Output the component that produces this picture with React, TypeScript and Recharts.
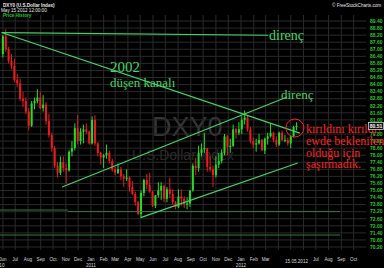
import React from 'react';
import { ComposedChart, Bar, XAxis, YAxis, CartesianGrid, ReferenceLine, ReferenceDot } from 'recharts';

document.body.style.margin = '0';
document.body.style.background = '#000';

// weekly bars, first week starts Mon 2010-05-31
const firstWeek = '2010-05-31';
const opens = [
  86.6, 88.1, 87.0, 86.0, 85.6, 84.4, 84.1, 82.8, 82.6, 81.7, 80.5, 82.4, 82.6, 82.9, 82.0, 82.3, 80.9, 79.7, 78.6, 77.1,
  76.5, 77.4, 76.9, 76.7, 78.3, 78.6, 80.3, 79.2, 80.0, 80.2, 80.0,
  79.0, 81.0, 79.0, 78.2, 77.8, 78.0, 78.2, 77.5, 76.8, 76.5, 76.8, 76.2, 76.0, 76.1, 75.3, 74.7, 74.0, 73.0, 74.8, 75.9,
  75.5, 74.9, 73.7, 74.6, 75.0, 75.4, 74.3, 75.1, 74.7, 74.0, 73.6, 74.5, 74.3, 73.8, 73.9, 75.0, 77.1, 76.9, 78.2, 78.5,
  78.6, 77.0, 76.8, 76.3, 77.2, 77.5, 78.2, 79.6, 78.7, 78.8, 80.2, 79.9,
  80.2, 81.0, 81.2, 80.2, 79.2, 78.9, 79.0, 79.3, 78.4, 79.4, 79.6, 79.9, 79.3, 78.9, 79.9, 79.3, 79.3, 79.0, 79.6, 80.4,
];
const highs = [
  88.2, 88.7, 87.2, 86.6, 86.2, 84.9, 84.5, 83.4, 82.9, 82.0, 82.6, 82.9, 83.6, 83.4, 83.1, 82.5, 81.5, 79.9, 78.8, 77.4,
  77.9, 77.9, 77.3, 78.4, 79.2, 80.7, 81.4, 80.3, 80.6, 80.7, 80.1,
  81.3, 81.4, 79.1, 78.3, 78.1, 78.9, 78.4, 77.7, 77.0, 77.3, 77.0, 76.4, 76.8, 76.2, 75.8, 74.9, 74.1, 75.0, 76.0, 76.4,
  76.5, 75.0, 74.6, 75.7, 75.7, 75.5, 75.3, 76.1, 75.1, 74.1, 75.1, 75.1, 74.5, 74.4, 75.0, 77.3, 77.8, 78.8, 79.0, 79.9,
  78.6, 77.9, 77.1, 77.9, 78.2, 78.5, 79.8, 79.7, 79.4, 80.6, 80.3, 80.8,
  81.3, 81.8, 81.4, 80.4, 79.5, 79.4, 79.8, 79.4, 79.5, 79.9, 80.7, 80.0, 79.6, 80.0, 80.1, 79.7, 79.5, 79.7, 80.5, 80.8,
];
const lows = [
  86.3, 86.8, 85.8, 85.3, 84.2, 83.8, 82.6, 82.1, 81.5, 80.1, 80.4, 81.9, 82.4, 81.9, 81.7, 80.6, 79.5, 78.3, 76.9, 76.1,
  76.3, 76.6, 75.6, 76.6, 77.9, 78.4, 78.9, 78.9, 79.0, 79.8, 78.9,
  78.9, 78.8, 77.9, 77.2, 76.9, 77.7, 77.3, 76.6, 76.3, 76.4, 75.9, 75.3, 75.8, 74.9, 74.6, 73.7, 72.9, 72.7, 74.5, 75.1,
  74.8, 73.6, 73.5, 74.4, 74.2, 74.0, 74.0, 74.4, 73.8, 73.4, 73.5, 73.7, 73.5, 73.4, 73.6, 74.9, 76.3, 76.6, 77.9, 78.2,
  76.6, 76.6, 75.3, 76.1, 76.9, 77.3, 78.0, 78.0, 78.2, 78.7, 79.4, 79.7,
  79.8, 80.6, 80.0, 79.0, 78.6, 78.3, 78.9, 78.4, 78.1, 78.9, 79.5, 79.1, 78.7, 78.8, 79.2, 79.1, 78.8, 78.6, 79.5, 80.1,
];
const closes = [
  88.1, 87.0, 86.0, 85.6, 84.4, 84.1, 82.8, 82.6, 81.7, 80.5, 82.4, 82.6, 82.9, 82.0, 82.3, 80.9, 79.7, 78.6, 77.1, 76.5,
  77.4, 76.9, 76.7, 78.3, 78.6, 80.3, 79.2, 80.0, 80.2, 80.0, 79.0,
  81.0, 79.0, 78.2, 77.8, 78.0, 78.2, 77.5, 76.8, 76.5, 76.8, 76.2, 76.0, 76.1, 75.3, 74.7, 74.0, 73.0, 74.8, 75.9, 75.5,
  74.9, 73.7, 74.6, 75.0, 75.4, 74.3, 75.1, 74.7, 74.0, 73.6, 74.5, 74.3, 73.8, 73.9, 75.0, 77.1, 76.9, 78.2, 78.5, 78.6,
  77.0, 76.8, 76.3, 77.2, 77.5, 78.2, 79.6, 78.7, 78.8, 80.2, 79.9, 80.2,
  81.0, 81.2, 80.2, 79.2, 78.9, 79.0, 79.3, 78.4, 79.4, 79.6, 79.9, 79.3, 78.9, 79.9, 79.3, 79.3, 79.0, 79.6, 80.4, 80.5,
];

const yTicks = [
  89.4, 88.8, 88.2, 87.6, 87.0, 86.4, 85.8, 85.2, 84.6, 84.0, 83.4, 82.8, 82.2, 81.6, 81.0, 80.4, 79.8,
  79.2, 78.6, 78.0, 77.4, 76.8, 76.2, 75.6, 75.0, 74.4, 73.8, 73.2, 72.6, 72.0, 71.4, 70.8, 70.2,
];

const gridMonths = [
  '2010-06-01', '2010-07-01', '2010-08-01', '2010-09-01', '2010-10-01', '2010-11-01', '2010-12-01',
  '2011-01-01', '2011-02-01', '2011-03-01', '2011-04-01', '2011-05-01', '2011-06-01', '2011-07-01',
  '2011-08-01', '2011-09-01', '2011-10-01', '2011-11-01', '2011-12-01', '2012-01-01', '2012-02-01',
  '2012-03-01', '2012-04-01', '2012-05-01', '2012-06-01', '2012-07-01', '2012-08-01', '2012-09-01', '2012-10-01',
];
const axisDates = [
  '2010-06-01', '2010-07-01', '2010-08-01', '2010-09-01', '2010-10-01', '2010-11-01', '2010-12-01',
  '2011-01-01', '2011-02-01', '2011-03-01', '2011-04-01', '2011-05-01', '2011-06-01', '2011-07-01',
  '2011-08-01', '2011-09-01', '2011-10-01', '2011-11-01', '2011-12-01', '2012-01-01', '2012-02-01',
  '2012-03-01', '2012-05-15', '2012-07-01', '2012-08-01', '2012-09-01', '2012-10-01',
];
const axisMonths = [
  'Jun', 'Jul', 'Aug', 'Sep', 'Oct', 'Nov', 'Dec', 'Jan', 'Feb', 'Mar', 'Apr', 'May', 'Jun', 'Jul',
  'Aug', 'Sep', 'Oct', 'Nov', 'Dec', 'Jan', 'Feb', 'Mar', '15.05.2012', 'Jul', 'Aug', 'Sep', 'Oct',
];
const axisYears = [
  '10', '', '', '', '', '', '', '2011', '', '', '', '', '', '', '', '', '', '', '', '2012', '', '', '', '', '', '', '',
];

// drawn trend lines: [date1, value1, date2, value2]
const trendLines: [string, number, string, number][] = [
  ['2010-05-29', 88.42, '2012-03-07', 88.19],
  ['2010-05-29', 88.42, '2012-05-23', 79.88],
  ['2010-10-23', 75.3, '2012-04-22', 82.94],
  ['2011-05-02', 72.7, '2012-05-18', 77.34],
];
const levelLines: [string, number, string, number][] = [
  ['2010-05-25', 73.34, '2010-11-06', 73.34],
  ['2010-11-06', 73.21, '2012-08-29', 73.21],
  ['2010-05-25', 71.22, '2012-08-29', 71.22],
];
const circleDate = '2012-05-11';
const circleValue = 80.31;
const lastPrice = '80.51';

const dayOf = (s: string) => {
  const [y, m, d] = s.split('-').map(Number);
  return (Date.UTC(y, m - 1, d) - Date.UTC(2010, 5, 1)) / 86400000;
};

const bars = opens.map((o, i) => ({
  day: dayOf(firstWeek) + i * 7 + 2,
  range: [lows[i], highs[i]],
  open: o,
  high: highs[i],
  low: lows[i],
  close: closes[i],
}));

const LINE = '#44d466';
const LEVEL = '#2e7a3e';

function Candle(props: any) {
  const { x, y, width, height, payload } = props;
  if (!payload || height == null) return null;
  const top = Math.min(y, y + height);
  const h = Math.abs(height);
  const k = h / (payload.high - payload.low);
  const oy = top + (payload.high - payload.open) * k;
  const cy = top + (payload.high - payload.close) * k;
  const color = payload.close >= payload.open ? '#22dd22' : '#ee1a1a';
  const cx = x + width / 2;
  return (
    <g>
      <line x1={cx} x2={cx} y1={top} y2={top + h} stroke={color} strokeWidth={1} />
      <rect x={x} y={Math.min(oy, cy)} width={width} height={Math.max(Math.abs(cy - oy), 1)} fill={color} />
    </g>
  );
}

function XTick(props: any) {
  const { x, y, index } = props;
  const m = axisMonths[index];
  const yr = axisYears[index];
  const isDate = m.length > 3;
  return (
    <g fontFamily="Liberation Sans" fontSize={4.6} fill="#d8d8d8">
      <text x={x} y={y + (isDate ? 11 : 9)} textAnchor="middle">{m}</text>
      {yr && <text x={yr.length === 2 ? x - 1 : x} y={y + 15} textAnchor="middle">{yr}</text>}
    </g>
  );
}

function YTick(props: any) {
  const { y, payload } = props;
  return (
    <text x={370} y={y + 1.8} fontFamily="Liberation Sans" fontSize={5} fontWeight="bold" fill="#22cc22">
      {Number(payload.value).toFixed(2)}
    </text>
  );
}

export default function App() {
  return (
    <div style={{ position: 'relative', width: 384, height: 268, background: '#000', overflow: 'hidden' }}>
      <svg width={384} height={268} style={{ position: 'absolute', left: 0, top: 0 }}>
        <text x={152} y={136} fontFamily="Liberation Sans" fontSize={27} fill="#363636">DXY0</text>
        <text x={132} y={160} fontFamily="Liberation Sans" fontSize={14} fill="#2c2c2c">U.S.Dollar Index</text>
      </svg>
      <div style={{ position: 'absolute', left: 0, top: 0 }}>
        <ComposedChart width={384} height={268} data={bars} margin={{ top: 15, right: 0, bottom: 0, left: 0 }}>
          <CartesianGrid
            stroke="#2a2a2a"
            strokeWidth={1}
            verticalValues={gridMonths.map(dayOf)}
            horizontalValues={yTicks}
          />
          <XAxis
            dataKey="day"
            type="number"
            domain={[-7, 883]}
            ticks={axisDates.map(dayOf)}
            interval={0}
            height={18}
            axisLine={false}
            tickLine={false}
            tickSize={0}
            allowDataOverflow
            tick={<XTick />}
          />
          <YAxis
            orientation="right"
            domain={[69.945, 89.91]}
            ticks={yTicks}
            interval={0}
            width={18}
            axisLine={false}
            tickLine={false}
            tickSize={0}
            allowDataOverflow
            tick={<YTick />}
          />
          {levelLines.map((l, i) => (
            <ReferenceLine
              key={'lv' + i}
              segment={[{ x: dayOf(l[0]), y: l[1] }, { x: dayOf(l[2]), y: l[3] }]}
              stroke={LEVEL}
              strokeWidth={1}
            />
          ))}
          <Bar dataKey="range" barSize={2} isAnimationActive={false} shape={<Candle />} />
          {trendLines.map((l, i) => (
            <ReferenceLine
              key={'tl' + i}
              segment={[{ x: dayOf(l[0]), y: l[1] }, { x: dayOf(l[2]), y: l[3] }]}
              stroke={LINE}
              strokeWidth={1.2}
            />
          ))}
          <ReferenceDot x={dayOf(circleDate)} y={circleValue} r={9} fill="none" stroke="#ff2222" strokeWidth={1} />
        </ComposedChart>
      </div>
      <svg width={384} height={268} style={{ position: 'absolute', left: 0, top: 0, pointerEvents: 'none' }}>
        <g fontFamily="Liberation Sans" fontSize={4.6}>
          <text x={3} y={7} fill="#e8e8e8" fontWeight="bold">DXY0 (U.S.Dollar Index)</text>
          <text x={1} y={11.5} fill="#e8e8e8">May 15 2012 12:00:00</text>
          <text x={3} y={17} fill="#22cc22" fontWeight="bold">Price History</text>
          <text x={332} y={7} fill="#e8e8e8">© FreeStockCharts.com</text>
        </g>
        <g fontFamily="Liberation Serif" fill={LINE}>
          <text x={269} y={40} fontSize={14}>direnç</text>
          <text x={110} y={72} fontSize={15}>2002</text>
          <text x={110} y={87} fontSize={13}>düşen kanalı</text>
          <text x={281} y={99} fontSize={13}>direnç</text>
        </g>
        <g fontFamily="Liberation Serif" fill="#ff2222" fontSize={12}>
          <text x={306} y={133}>kırıldını kırıldı?</text>
          <text x={306} y={145}>ewde beklenilen</text>
          <text x={306} y={156.5}>olduğu için</text>
          <text x={306} y={168}>şaşırmadık.</text>
        </g>
        <rect x={368.5} y={122.5} width={15} height={7} fill="#111" stroke="#d0d0d0" strokeWidth={0.8} />
        <text x={376} y={128} textAnchor="middle" fontFamily="Liberation Sans" fontSize={5} fontWeight="bold" fill="#fff">
          {lastPrice}
        </text>
      </svg>
    </div>
  );
}
